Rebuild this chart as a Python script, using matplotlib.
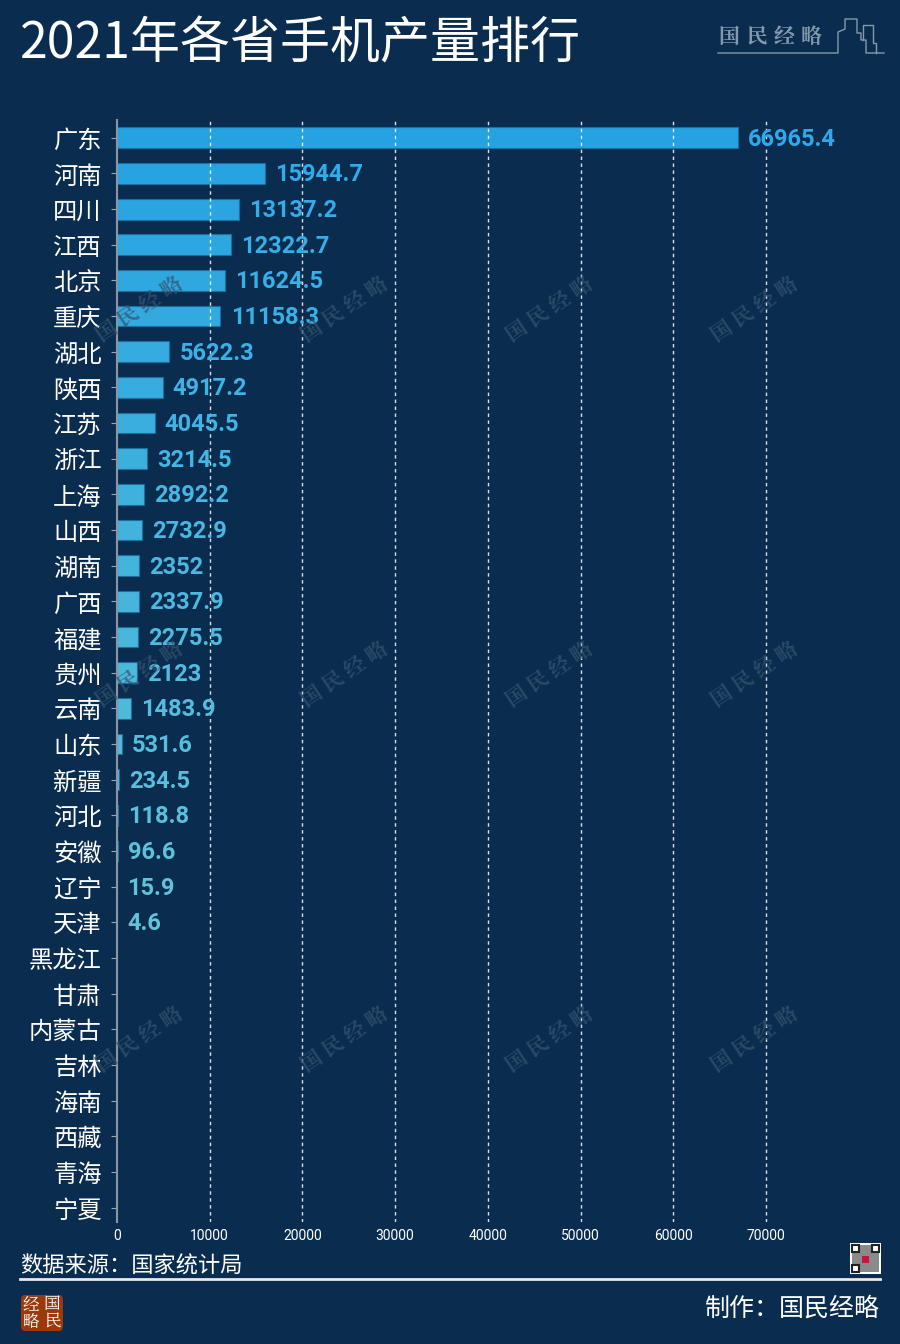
import matplotlib.pyplot as plt
import matplotlib.colors as mcolors
from matplotlib.patches import Rectangle, FancyBboxPatch
from matplotlib.lines import Line2D
import numpy as np

plt.rcParams['font.family'] = ['Noto Sans CJK SC', 'DejaVu Sans']

# 数据
provinces = ['广东', '河南', '四川', '江西', '北京', '重庆', '湖北', '陕西', '江苏', '浙江',
             '上海', '山西', '湖南', '广西', '福建', '贵州', '云南', '山东', '新疆', '河北',
             '安徽', '辽宁', '天津', '黑龙江', '甘肃', '内蒙古', '吉林', '海南', '西藏', '青海', '宁夏']
values = [66965.4, 15944.7, 13137.2, 12322.7, 11624.5, 11158.3, 5622.3, 4917.2, 4045.5, 3214.5,
          2892.2, 2732.9, 2352, 2337.9, 2275.5, 2123, 1483.9, 531.6, 234.5, 118.8,
          96.6, 15.9, 4.6, None, None, None, None, None, None, None, None]
labels = ['66965.4', '15944.7', '13137.2', '12322.7', '11624.5', '11158.3', '5622.3', '4917.2',
          '4045.5', '3214.5', '2892.2', '2732.9', '2352', '2337.9', '2275.5', '2123', '1483.9',
          '531.6', '234.5', '118.8', '96.6', '15.9', '4.6']
xticks = [0, 10000, 20000, 30000, 40000, 50000, 60000, 70000]

bg = '#0a2d4f'
W, H = 900, 1344
fig = plt.figure(figsize=(W / 100, H / 100), dpi=100, facecolor=bg)

# 坐标轴位置（像素）
ax_l, ax_r, ax_t, ax_b = 117, 880, 120, 1222
ax = fig.add_axes([ax_l / W, 1 - ax_b / H, (ax_r - ax_l) / W, (ax_b - ax_t) / H])
ax.set_facecolor(bg)

n = len(provinces)
y = np.arange(n)
top_c = np.array(mcolors.to_rgb('#25a2e2'))
bot_c = np.array(mcolors.to_rgb('#5ec3d6'))
cols = [tuple(top_c + (bot_c - top_c) * min(i, 22) / 22) for i in range(n)]
ltop = np.array(mcolors.to_rgb('#2eaaec'))
lbot = np.array(mcolors.to_rgb('#62c4d8'))
lcols = [tuple(ltop + (lbot - ltop) * min(i, 22) / 22) for i in range(n)]

numfont = ['Roboto', 'DejaVu Sans']
for i, v in enumerate(values):
    if v is None:
        continue
    ax.barh(i, v, height=0.58, color=cols[i], edgecolor='#1b6e9e', linewidth=0.8, zorder=2)
    ax.text(v + 1100, i + 0.04, labels[i], color=lcols[i], fontsize=17, fontweight='bold',
            family=numfont, va='center', ha='left', zorder=4)

for xv in xticks[1:]:
    ax.axvline(xv, color='white', alpha=0.85, lw=1, ls=(0, (2.5, 2.5)), zorder=3)

ax.set_xlim(0, 82300)
ax.set_ylim(30.4, -0.5)
ax.set_yticks(y)
ax.set_yticklabels(provinces, color='white', fontsize=17.5)
ax.set_xticks(xticks)
ax.set_xticklabels([str(t) for t in xticks], color='white', fontsize=10, family=numfont)
ax.tick_params(axis='y', length=4, color='#9aa5b0', pad=7)
ax.tick_params(axis='x', length=0, pad=5)
for s in ['top', 'right', 'bottom']:
    ax.spines[s].set_visible(False)
ax.spines['left'].set_color('#8a96a3')
ax.spines['left'].set_linewidth(1.5)

# 水印
serif = ['Noto Serif CJK SC', 'Noto Sans CJK SC']
for wx in [140, 345, 550, 755]:
    for wy in [310, 675, 1040]:
        fig.text(wx / W, 1 - wy / H, '国 民 经 略', color='#34546f', alpha=0.75, fontsize=15,
                 rotation=34, ha='center', va='center', family=serif, fontweight='bold')

# 标题
fig.text(20 / W, 1 - 44 / H, '2021年各省手机产量排行', color='white', fontsize=36, va='center', ha='left')

# 右上角标志
logo_c = '#8499ad'
for k, ch in enumerate('国民经略'):
    fig.text((729 + 27.5 * k) / W, 1 - 37 / H, ch, color=logo_c, fontsize=15, va='center',
             ha='center', family=serif, fontweight='bold')
pts = [(718, 53), (838, 53), (838, 32), (845, 29), (845, 19), (857, 19), (857, 33), (861, 33),
       (861, 40), (866, 40), (866, 53), (884, 53)]
fig.add_artist(Line2D([p[0] / W for p in pts], [1 - p[1] / H for p in pts], color=logo_c, lw=1))
pts2 = [(863, 40), (863, 25), (873, 25), (873, 43), (876, 43), (876, 53)]
fig.add_artist(Line2D([p[0] / W for p in pts2], [1 - p[1] / H for p in pts2], color=logo_c, lw=1))

# 底部
fig.text(20 / W, 1 - 1266 / H, '数据来源：国家统计局', color='white', fontsize=16, va='center', ha='left')
fig.add_artist(Line2D([20 / W, 880 / W], [1 - 1279 / H, 1 - 1279 / H], color='#e8e8e8', lw=2))
fig.text(880 / W, 1 - 1309 / H, '制作：国民经略', color='white', fontsize=18, va='center', ha='right')

fig.add_artist(FancyBboxPatch((21 / W, 1 - 1331 / H), 42 / W, 36 / H,
                              boxstyle='round,pad=0,rounding_size=0.004', transform=fig.transFigure,
                              facecolor='#9a3a0c', edgecolor='none'))
for tx, ty, ch in [(31, 1304, '经'), (52, 1304, '国'), (31, 1322, '略'), (52, 1322, '民')]:
    fig.text(tx / W, 1 - ty / H, ch, color='white', fontsize=12, ha='center', va='center',
             family=serif)

# 二维码
fig.add_artist(Rectangle((850 / W, 1 - 1274 / H), 31 / W, 31 / H, transform=fig.transFigure,
                         facecolor='white', edgecolor='none'))
fig.add_artist(Rectangle((852 / W, 1 - 1272 / H), 27 / W, 27 / H, transform=fig.transFigure,
                         facecolor='#8a8a8a', edgecolor='none'))
for qx, qy in [(852, 1245), (872, 1245), (852, 1265)]:
    fig.add_artist(Rectangle((qx / W, 1 - (qy + 7) / H), 7 / W, 7 / H, transform=fig.transFigure,
                             facecolor='white', edgecolor='#222222', lw=1.5))
fig.add_artist(Rectangle((862 / W, 1 - 1263 / H), 7 / W, 7 / H, transform=fig.transFigure,
                         facecolor='#c8143c', edgecolor='none'))

fig.savefig('out.png', dpi=100, facecolor=bg)
